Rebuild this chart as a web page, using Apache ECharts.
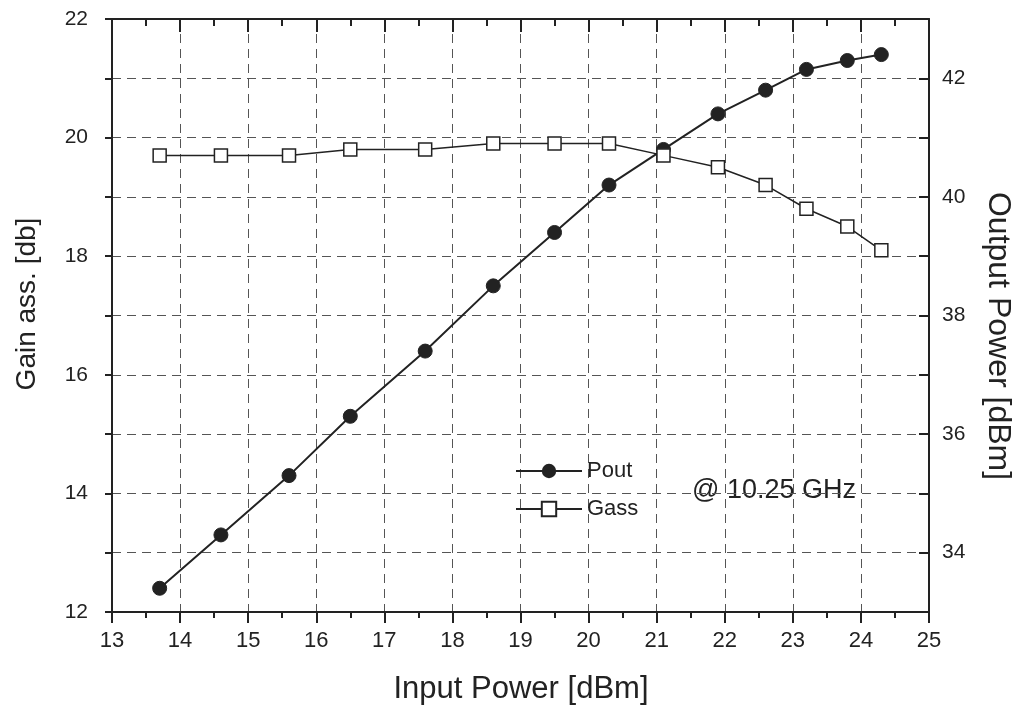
<!DOCTYPE html>
<html>
<head>
<meta charset="utf-8">
<script src="https://cdn.jsdelivr.net/npm/echarts@6/dist/echarts.min.js"></script>
<style>
  html, body { margin: 0; padding: 0; background: #fff; }
  #chart { width: 1018px; height: 710px; }
</style>
</head>
<body>
<div id="chart"></div>
<script>
// input power [dBm], shared by both curves
const inputPower = [13.7, 14.6, 15.6, 16.5, 17.6, 18.6, 19.5, 20.3, 21.1, 21.9, 22.6, 23.2, 23.8, 24.3]
// output power [dBm] (right axis)
const pout = [33.4, 34.3, 35.3, 36.3, 37.4, 38.5, 39.4, 40.2, 40.8, 41.4, 41.8, 42.15, 42.3, 42.4]
// associated gain [db] (left axis)
const gass = [19.7, 19.7, 19.7, 19.8, 19.8, 19.9, 19.9, 19.9, 19.7, 19.5, 19.2, 18.8, 18.5, 18.1]

const ink = '#222'
const font = "'Liberation Sans', Arial, sans-serif"
const pairs = (ys) => inputPower.map((x, i) => [x, ys[i]])
const evenOnly = (v) => (v % 2 === 0 ? String(v) : '')

const chart = echarts.init(document.getElementById('chart'))

const dashed = { show: true, lineStyle: { color: '#555', type: [9, 6], width: 1 } }
const axisLine = { show: true, onZero: false, lineStyle: { color: ink, width: 2 } }

chart.setOption({
  animation: false,
  textStyle: { fontFamily: font },
  grid: { left: 112, right: 89, top: 19, bottom: 98, outerBoundsMode: 'none' },
  legend: {
    orient: 'vertical', left: 510, top: 455, itemGap: 16,
    itemWidth: 66, itemHeight: 18,
    textStyle: { fontSize: 22, color: ink, fontFamily: font },
    data: ['Pout', 'Gass']
  },
  graphic: [{
    type: 'text', x: 692, y: 491,
    style: { text: '@ 10.25 GHz', fontSize: 27, fill: ink, fontFamily: font, verticalAlign: 'middle' }
  }, {
    // axis titles placed by hand, the scan has them off-centre
    type: 'text', x: 27, y: 304, rotation: Math.PI / 2,
    style: { text: 'Gain ass. [db]', fontSize: 28, fill: ink, fontFamily: font, align: 'center', verticalAlign: 'middle' }
  }, {
    type: 'text', x: 998, y: 336, rotation: -Math.PI / 2,
    style: { text: 'Output Power [dBm]', fontSize: 32, fill: ink, fontFamily: font, align: 'center', verticalAlign: 'middle' }
  }, {
    type: 'text', x: 521, y: 689,
    style: { text: 'Input Power [dBm]', fontSize: 31, fill: ink, fontFamily: font, align: 'center', verticalAlign: 'middle' }
  }],
  xAxis: [{
    type: 'value', min: 13, max: 25, interval: 1,
    axisLine,
    axisTick: { show: true, inside: false, length: 11, lineStyle: { color: ink, width: 2 } },
    minorTick: { show: true, splitNumber: 2, length: 6, lineStyle: { color: ink, width: 2 } },
    axisLabel: { fontSize: 22, color: ink, margin: 18 },
    splitLine: dashed
  }, {
    type: 'value', min: 13, max: 25, interval: 1, position: 'top',
    axisLine,
    axisTick: { show: true, inside: true, length: 13, lineStyle: { color: ink, width: 2 } },
    minorTick: { show: true, splitNumber: 2, length: 7, lineStyle: { color: ink, width: 2 } },
    axisLabel: { show: false },
    splitLine: { show: false }
  }],
  yAxis: [{
    type: 'value', min: 12, max: 22, interval: 1,
    axisLine,
    axisTick: { show: true, inside: false, length: 7, lineStyle: { color: ink, width: 2 } },
    axisLabel: { fontSize: 21, color: ink, margin: 24, formatter: evenOnly },
    splitLine: dashed
  }, {
    type: 'value', min: 33, max: 43, interval: 1, position: 'right',
    axisLine,
    axisTick: { show: true, inside: true, length: 10, lineStyle: { color: ink, width: 2 } },
    axisLabel: { fontSize: 21, color: ink, margin: 13, formatter: evenOnly },
    splitLine: { show: false }
  }],
  series: [{
    name: 'Pout', type: 'line', yAxisIndex: 1,
    data: pairs(pout),
    symbol: 'circle', symbolSize: 14,
    lineStyle: { color: ink, width: 2 },
    itemStyle: { color: ink, borderColor: ink }
  }, {
    name: 'Gass', type: 'line', yAxisIndex: 0,
    data: pairs(gass),
    symbol: 'rect', symbolSize: 13,
    lineStyle: { color: ink, width: 1.5 },
    itemStyle: { color: '#fff', borderColor: ink, borderWidth: 1.5 }
  }]
})
</script>
</body>
</html>
